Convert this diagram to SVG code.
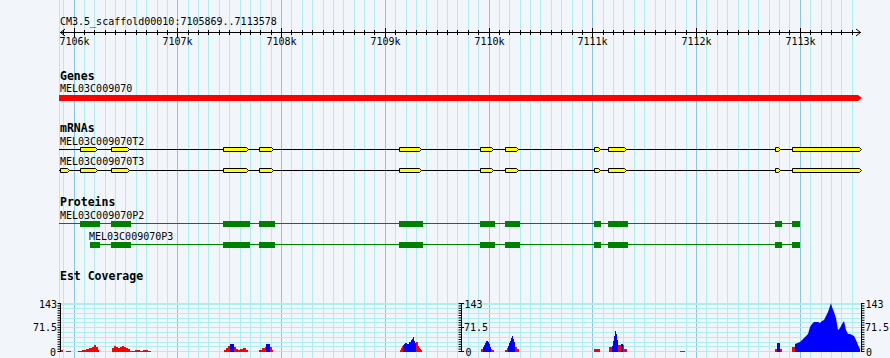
<svg xmlns="http://www.w3.org/2000/svg" xmlns:xlink="http://www.w3.org/1999/xlink" width="890" height="358" viewBox="0 0 890 358">
<style>
.t{font-family:"DejaVu Sans Mono","Liberation Mono",monospace;font-size:10px;fill:#000}
.b{font-family:"DejaVu Sans Mono","Liberation Mono",monospace;font-size:11.5px;font-weight:bold;fill:#000}
.mid{text-anchor:middle}
.end{text-anchor:end}
.ex{fill:#ffff00;stroke:#000;stroke-width:1}
.intron{stroke:#000;stroke-width:1;fill:none}
.pline{stroke:#008000;stroke-width:1;fill:none}
.pbox{fill:#008000}
.red{fill:#ff0000}
.blue{fill:#0000ff}
.ax{stroke:#000;stroke-width:1;fill:none}
</style>
<defs>
<path id="minorX" d="M63.5 0V1M84.5 0V1M94.5 0V1M105.5 0V1M115.5 0V1M125.5 0V1M136.5 0V1M146.5 0V1M157.5 0V1M167.5 0V1M188.5 0V1M198.5 0V1M208.5 0V1M219.5 0V1M229.5 0V1M240.5 0V1M250.5 0V1M260.5 0V1M271.5 0V1M291.5 0V1M302.5 0V1M312.5 0V1M323.5 0V1M333.5 0V1M343.5 0V1M354.5 0V1M364.5 0V1M374.5 0V1M395.5 0V1M406.5 0V1M416.5 0V1M426.5 0V1M437.5 0V1M447.5 0V1M457.5 0V1M468.5 0V1M478.5 0V1M499.5 0V1M509.5 0V1M520.5 0V1M530.5 0V1M540.5 0V1M551.5 0V1M561.5 0V1M572.5 0V1M582.5 0V1M603.5 0V1M613.5 0V1M623.5 0V1M634.5 0V1M644.5 0V1M655.5 0V1M665.5 0V1M675.5 0V1M686.5 0V1M706.5 0V1M717.5 0V1M727.5 0V1M738.5 0V1M748.5 0V1M758.5 0V1M769.5 0V1M779.5 0V1M789.5 0V1M810.5 0V1M821.5 0V1M831.5 0V1M841.5 0V1M852.5 0V1"/>
<path id="majorX" d="M74.5 0V1M177.5 0V1M281.5 0V1M385.5 0V1M489.5 0V1M592.5 0V1M696.5 0V1M800.5 0V1"/>
<path id="yticks" d="M0 351.5H3M0 349.1H3M0 346.7H3M0 344.3H3M0 341.9H3M0 339.5H3M0 337.1H3M0 334.7H3M0 332.3H3M0 329.9H3M0 327.5H3M0 325.1H3M0 322.7H3M0 320.3H3M0 317.9H3M0 315.5H3M0 313.1H3M0 310.7H3M0 308.3H3M0 305.9H3M0 303.5H3"/>
<g id="txExons">
<polygon class="ex" points="80,-2 95,-2 97,0 95,2 80,2"/>
<polygon class="ex" points="111,-2 127,-2 129,0 127,2 111,2"/>
<polygon class="ex" points="223,-2 246,-2 248,0 246,2 223,2"/>
<polygon class="ex" points="259,-2 271,-2 273,0 271,2 259,2"/>
<polygon class="ex" points="399,-2 419,-2 421,0 419,2 399,2"/>
<polygon class="ex" points="480,-2 491,-2 493,0 491,2 480,2"/>
<polygon class="ex" points="505,-2 516,-2 518,0 516,2 505,2"/>
<polygon class="ex" points="594,-2 598,-2 600,0 598,2 594,2"/>
<polygon class="ex" points="608,-2 624,-2 626,0 624,2 608,2"/>
<polygon class="ex" points="775,-2 778,-2 780,0 778,2 775,2"/>
<polygon class="ex" points="792,-2 859,-2 861,0 859,2 792,2"/>
</g>
<g id="prBoxes">
<rect class="pbox" x="111" y="-3" width="20" height="6"/>
<rect class="pbox" x="223" y="-3" width="27" height="6"/>
<rect class="pbox" x="259" y="-3" width="16" height="6"/>
<rect class="pbox" x="399" y="-3" width="24" height="6"/>
<rect class="pbox" x="480" y="-3" width="15" height="6"/>
<rect class="pbox" x="505" y="-3" width="15" height="6"/>
<rect class="pbox" x="594" y="-3" width="7" height="6"/>
<rect class="pbox" x="608" y="-3" width="20" height="6"/>
<rect class="pbox" x="775" y="-3" width="7" height="6"/>
<rect class="pbox" x="792" y="-3" width="8" height="6"/>
</g>
</defs>

<rect width="890" height="358" fill="#f2f5fa"/>

<g id="grid">
<path d="M59.5 0V358" stroke="#aeeef0" stroke-width="1"/>
<use xlink:href="#minorX" href="#minorX" transform="scale(1,358)" stroke="#aeeef0" stroke-width="1"/>
<use xlink:href="#majorX" href="#majorX" transform="scale(1,358)" stroke="#86c8e6" stroke-width="1"/>
<path d="M60 351.5H862M60 346.5H862M60 342.5H862M60 337.5H862M60 332.5H862M60 327.5H862M60 322.5H862M60 318.5H862M60 313.5H862M60 308.5H862" stroke="#aeeef0" stroke-width="1"/>
<path d="M60 304H862" stroke="#aeeef0" stroke-width="2"/>
</g>

<g id="ruler">
<text class="t" x="60" y="24.5">CM3.5_scaffold00010:7105869..7113578</text>
<path class="ax" d="M60 32.5H861"/>
<path class="ax" d="M65 29L60.5 32.5L65 36M856 29L860.5 32.5L856 36"/>
<use xlink:href="#minorX" href="#minorX" transform="translate(0,30) scale(1,5)" stroke="#000" stroke-width="1"/>
<use xlink:href="#majorX" href="#majorX" transform="translate(0,28) scale(1,9)" stroke="#000" stroke-width="1"/>
<text class="t mid" x="74.5" y="45">7106k</text>
<text class="t mid" x="177.5" y="45">7107k</text>
<text class="t mid" x="281.5" y="45">7108k</text>
<text class="t mid" x="385.5" y="45">7109k</text>
<text class="t mid" x="489.5" y="45">7110k</text>
<text class="t mid" x="592.5" y="45">7111k</text>
<text class="t mid" x="696.5" y="45">7112k</text>
<text class="t mid" x="800.5" y="45">7113k</text>
</g>

<g id="track-genes">
<text class="b" x="60" y="80">Genes</text>
<g id="gene-MEL03C009070">
<text class="t" x="60" y="92">MEL03C009070</text>
<polygon class="red" points="59,95 858,95 862,98 858,101 59,101"/>
</g>
</g>

<g id="track-mrnas">
<text class="b" x="60" y="132">mRNAs</text>
<g id="mrna-T2">
<text class="t" x="60" y="144.5">MEL03C009070T2</text>
<path class="intron" d="M59 149.5H861"/>
<use xlink:href="#txExons" href="#txExons" transform="translate(0.5,149.5)"/>
</g>
<g id="mrna-T3">
<text class="t" x="60" y="165">MEL03C009070T3</text>
<path class="intron" d="M59 170.5H861"/>
<g transform="translate(0.5,170.5)"><polygon class="ex" points="60,-2 67,-2 69,0 67,2 60,2"/></g>
<use xlink:href="#txExons" href="#txExons" transform="translate(0.5,170.5)"/>
</g>
</g>

<g id="track-proteins">
<text class="b" x="60" y="206">Proteins</text>
<g id="protein-P2">
<text class="t" x="60" y="218.5">MEL03C009070P2</text>
<path class="pline" d="M59 223.5H800"/>
<rect class="pbox" x="80" y="221" width="20" height="6"/>
<use xlink:href="#prBoxes" href="#prBoxes" transform="translate(0,224)"/>
</g>
<g id="protein-P3">
<text class="t" x="89" y="239.5">MEL03C009070P3</text>
<path class="pline" d="M90 244.5H800"/>
<rect class="pbox" x="90" y="242" width="10" height="6"/>
<use xlink:href="#prBoxes" href="#prBoxes" transform="translate(0,245)"/>
</g>
</g>

<g id="track-est-coverage">
<text class="b" x="60" y="280">Est Coverage</text>
<g id="coverage-red">
<path class="red" d="M61 352V350H63V352Z M66 352V351H71V352Z M78 352V351H82V350H86V349H89V348H92V347H94V345H96V347H98V350H99V352Z M112 352V348H114V346H116V347H118V348H120V347H122V346H124V347H126V348H128V349H130V352Z M130 352V351H135V350H140V351H143V350H148V351H151V352Z M224 352V350H226V348H228V346H230V344H234V347H236V349H238V350H240V352Z M240 352V349H243V348H246V350H248V352Z M259 352V350H262V348H265V347H266V345H270V347H272V350H273V352Z M400 352V350H401V348H402V346H403V345H416V342H418V346H419V348H420V349H421V350H422V352Z M481 352V349H492V350H494V352Z M505 352V350H507V348H508V347H515V347H517V349H519V352Z M594 352V349H600V352Z M609 352V347H612V346H618V345H621V344H623V345H624V349H627V352Z M680 352V351H685V352Z M775 352V349H782V352Z M792 352V347H795V352Z"/>
</g>
<g id="coverage-blue">
<path class="blue" d="M230 352V344H234V352Z M266 352V344H270V352Z M403 352V346H404V344H405V343H407V344H409V342H411V340H412V339H413V337H414V341H415V343H416V352Z M483 352V347H484V345H485V343H486V341H488V342H489V344H490V347H491V352Z M508 352V346H509V343H510V341H511V338H512V336H513V339H514V342H515V352Z M612 352V346H613V341H614V336H615V331H616V334H617V340H618V352Z M621 352V344H623V352Z M777 352V343H780V352Z"/>
<polygon class="blue" points="795,352 795,344 800,342 805,337 808,334 810,327 812,324 814,322 818,322 820,323 822,321 824,320 826,316 828,312 830,306 831,303 832,307 834,312 836,318 838,330 840,328 842,324 844,321 846,330 848,334 850,334 852,335 854,336 856,340 858,345 860,349 860,352"/>
</g>
<g id="axis-left">
<path class="ax" d="M60.5 303V352"/>
<use xlink:href="#yticks" href="#yticks" transform="translate(57.5,0)" stroke="#000" stroke-width="1"/>
<text class="t end" x="57" y="307.5">143</text>
<text class="t end" x="57" y="331">71.5</text>
<text class="t end" x="56" y="355.5">0</text>
</g>
<g id="axis-mid">
<path class="ax" d="M461.5 303V352"/>
<use xlink:href="#yticks" href="#yticks" transform="translate(458.5,0)" stroke="#000" stroke-width="1"/>
<path class="ax" d="M461.5 303.5H464M461.5 327.5H464M461.5 351.5H464"/>
<text class="t" x="464.5" y="307.5">143</text>
<text class="t" x="464" y="331">71.5</text>
<text class="t" x="465.5" y="355.5">0</text>
</g>
<g id="axis-right">
<path class="ax" d="M861.5 303V352"/>
<use xlink:href="#yticks" href="#yticks" transform="translate(861.5,0)" stroke="#000" stroke-width="1"/>
<text class="t" x="865.5" y="307.5">143</text>
<text class="t" x="865" y="331">71.5</text>
<text class="t" x="866" y="355.5">0</text>
</g>
</g>
</svg>
